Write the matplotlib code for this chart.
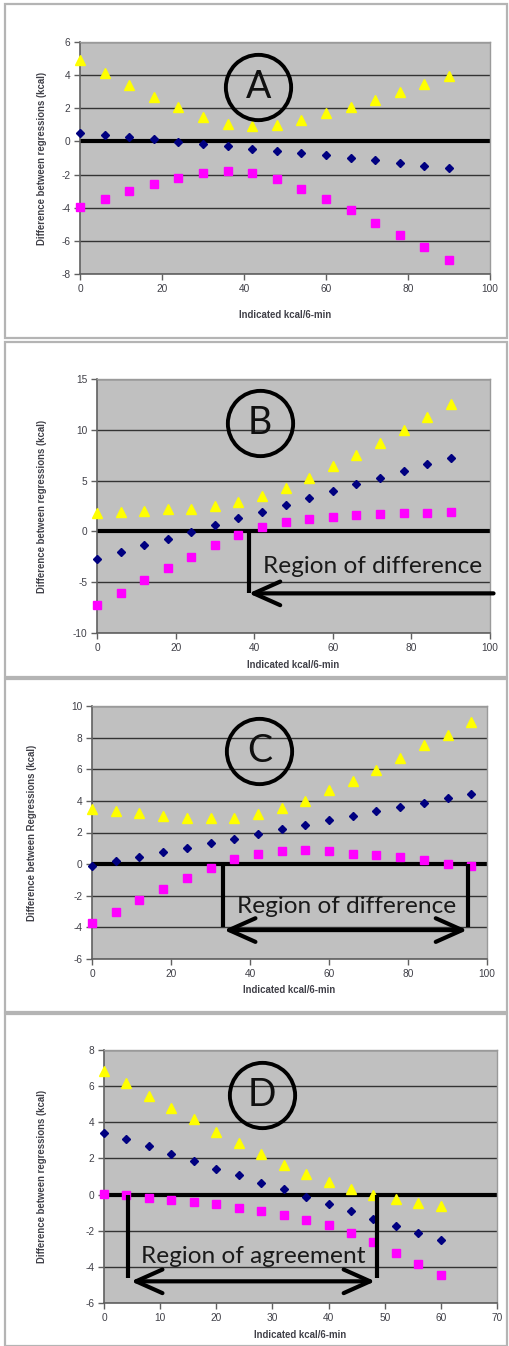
import numpy as np
import matplotlib
matplotlib.use('Agg')
import matplotlib.pyplot as plt
from matplotlib.patches import Rectangle

# values
xA = np.arange(0, 91, 6)
yellowA = [4.9, 4.14, 3.39, 2.71, 2.05, 1.5, 1.08, 0.94, 1.02, 1.3, 1.7, 2.09, 2.53, 2.99, 3.47, 3.94]
blueA = [0.48, 0.38, 0.26, 0.12, -0.02, -0.18, -0.3, -0.44, -0.58, -0.72, -0.84, -0.98, -1.12, -1.33, -1.47, -1.59]
pinkA = [-3.96, -3.47, -2.99, -2.59, -2.19, -1.91, -1.81, -1.91, -2.27, -2.87, -3.47, -4.16, -4.9, -5.64, -6.39, -7.13]

xB = np.arange(0, 91, 6)
yellowB = [1.78, 1.9, 2.04, 2.17, 2.24, 2.5, 2.9, 3.52, 4.24, 5.23, 6.45, 7.53, 8.75, 10.0, 11.3, 12.57]
blueB = [-2.73, -2.04, -1.38, -0.72, -0.07, 0.63, 1.28, 1.94, 2.63, 3.29, 3.95, 4.64, 5.26, 5.95, 6.61, 7.27]
pinkB = [-7.27, -6.02, -4.8, -3.59, -2.5, -1.38, -0.36, 0.43, 0.95, 1.25, 1.41, 1.61, 1.74, 1.84, 1.84, 1.94]

xC = np.arange(0, 97, 6)
yellowC = [3.47, 3.39, 3.24, 3.07, 2.93, 2.93, 2.93, 3.16, 3.52, 4.0, 4.67, 5.28, 5.98, 6.74, 7.52, 8.19, 8.97]
blueC = [-0.1, 0.19, 0.46, 0.74, 1.03, 1.31, 1.6, 1.89, 2.19, 2.46, 2.76, 3.03, 3.33, 3.6, 3.89, 4.17, 4.46]
pinkC = [-3.75, -3.0, -2.27, -1.58, -0.88, -0.23, 0.32, 0.61, 0.84, 0.88, 0.84, 0.67, 0.55, 0.42, 0.29, 0.0, -0.1]

xD = np.arange(0, 61, 4)
yellowD = [6.83, 6.15, 5.47, 4.81, 4.16, 3.48, 2.87, 2.25, 1.64, 1.12, 0.7, 0.33, -0.04, -0.26, -0.44, -0.63]
blueD = [3.43, 3.06, 2.69, 2.27, 1.88, 1.44, 1.09, 0.66, 0.29, -0.11, -0.52, -0.9, -1.34, -1.73, -2.14, -2.5]
pinkD = [0.04, -0.04, -0.18, -0.28, -0.42, -0.52, -0.72, -0.9, -1.12, -1.4, -1.71, -2.14, -2.63, -3.22, -3.83, -4.45]

W, H = 509, 1346


def fbox(l, t, r, b):
    # pixel box (top-left origin) -> figure fraction
    return [l / W, 1 - b / H, (r - l) / W, (b - t) / H]


fig = plt.figure(figsize=(W / 100, H / 100), dpi=100)
fig.patch.set_facecolor('white')

# panel frames
for l, t, r, b in [(5, 4, 507, 338), (5, 342, 507, 677), (5, 679, 507, 1012), (5, 1014, 507, 1346)]:
    fig.patches.append(Rectangle((l / W, 1 - b / H), (r - l) / W, (b - t) / H,
                                 transform=fig.transFigure, fill=False, ec='#b4b4b4', lw=1.6))

tickfont = dict(family='Liberation Sans', size=7.3, color='#404048')
labfont = dict(family='Liberation Sans', size=6.9, weight='bold', color='#404048')
bigfont = 'Lato'
regsize = 17.6


def panel(box, x, yel, blu, pnk, xlim, xstep, ylim, ystep, ylabel, letter, letterpos, ylab_x, xlab_y):
    ax = fig.add_axes(fbox(*box))
    ax.set_facecolor('#c0c0c0')
    ax.set_xlim(*xlim)
    ax.set_ylim(*ylim)
    ax.set_xticks(np.arange(xlim[0], xlim[1] + 0.1, xstep))
    ax.set_yticks(np.arange(ylim[0], ylim[1] + 0.1, ystep))
    for t in ax.get_yticks():
        ax.axhline(t, color='#333333', lw=1.0, zorder=1)
    ax.axhline(0, color='black', lw=3, zorder=2)
    ax.plot(x, yel, '^', color='#ffff00', ms=7, mec='#ffff00', ls='none', zorder=3, clip_on=False)
    ax.plot(x, blu, 'D', color='#000080', ms=3.6, ls='none', zorder=3, clip_on=False)
    ax.plot(x, pnk, 's', color='#ff00ff', ms=6.3, ls='none', zorder=3, clip_on=False)
    for s in ['top', 'right']:
        ax.spines[s].set_color('#9a9a9a')
        ax.spines[s].set_linewidth(1.0)
    for s in ['left', 'bottom']:
        ax.spines[s].set_color('#606060')
        ax.spines[s].set_linewidth(1.2)
    ax.tick_params(direction='out', length=4, width=1, color='#606060', pad=3)
    ax.set_xticklabels([f'{int(v)}' for v in ax.get_xticks()], **tickfont)
    ax.set_yticklabels([f'{int(v)}' for v in ax.get_yticks()], **tickfont)
    # axis titles placed in pixel positions
    fig.text(ylab_x / W, 1 - (box[1] + box[3]) / 2 / H, ylabel, rotation=90,
             ha='center', va='center', **labfont)
    fig.text((box[0] + box[2]) / 2 / W, 1 - xlab_y / H, 'Indicated kcal/6-min',
             ha='center', va='center', **labfont)
    # circled letter
    ax.plot(letterpos[0], letterpos[1], 'o', ms=47, mfc='none', mec='black', mew=2.8, zorder=5)
    ax.text(letterpos[0], letterpos[1], letter, ha='center', va='center', fontsize=27,
            family=bigfont, color='#101010', zorder=5)
    return ax


axA = panel((80, 42, 490, 274), xA, yellowA, blueA, pinkA, (0, 100), 20, (-8, 6), 2,
            'Difference between regressions (kcal)', 'A', (43.5, 3.3), 42, 315)

axB = panel((97, 379, 490, 633), xB, yellowB, blueB, pinkB, (0, 100), 20, (-10, 15), 5,
            'Difference between regressions (kcal)', 'B', (41.4, 10.66), 42, 665)
axB.plot([38.6, 38.6], [0, -6.1], color='black', lw=3, solid_capstyle='butt', zorder=4)
axB.annotate('', xy=(38.6, -6.1), xytext=(100.9, -6.1), annotation_clip=False,
             arrowprops=dict(arrowstyle='->,head_length=1.9,head_width=0.85', lw=3,
                             color='black', shrinkA=0, shrinkB=0), zorder=4)
axB.text(42.2, -3.5, 'Region of difference', ha='left', va='center', fontsize=regsize,
         family=bigfont, color='#1a1a1a', zorder=4)

axC = panel((92, 706, 487, 959), xC, yellowC, blueC, pinkC, (0, 100), 20, (-6, 10), 2,
            'Difference between Regressions (kcal)', 'C', (42.4, 7.14), 32, 990)
for xv in [33.1, 95.2]:
    axC.plot([xv, xv], [0, -3.95], color='black', lw=3, solid_capstyle='butt', zorder=4)
axC.annotate('', xy=(95.0, -4.17), xytext=(33.4, -4.17),
             arrowprops=dict(arrowstyle='<->,head_length=1.9,head_width=0.85', lw=3,
                             color='black', shrinkA=0, shrinkB=0), zorder=4)
axC.text(64.4, -2.7, 'Region of difference', ha='center', va='center', fontsize=regsize,
         family=bigfont, color='#1a1a1a', zorder=4)

axD = panel((104, 1050, 497, 1303), xD, yellowD, blueD, pinkD, (0, 70), 10, (-6, 8), 2,
            'Difference between regressions (kcal)', 'D', (28.1, 5.5), 42, 1335)
for xv in [4.3, 48.7]:
    axD.plot([xv, xv], [0, -4.6], color='black', lw=3, solid_capstyle='butt', zorder=4)
axD.annotate('', xy=(48.3, -4.8), xytext=(4.8, -4.8),
             arrowprops=dict(arrowstyle='<->,head_length=1.9,head_width=0.85', lw=3,
                             color='black', shrinkA=0, shrinkB=0), zorder=4)
axD.text(26.6, -3.4, 'Region of agreement', ha='center', va='center', fontsize=regsize,
         family=bigfont, color='#1a1a1a', zorder=4)

fig.savefig('out.png', dpi=100)
